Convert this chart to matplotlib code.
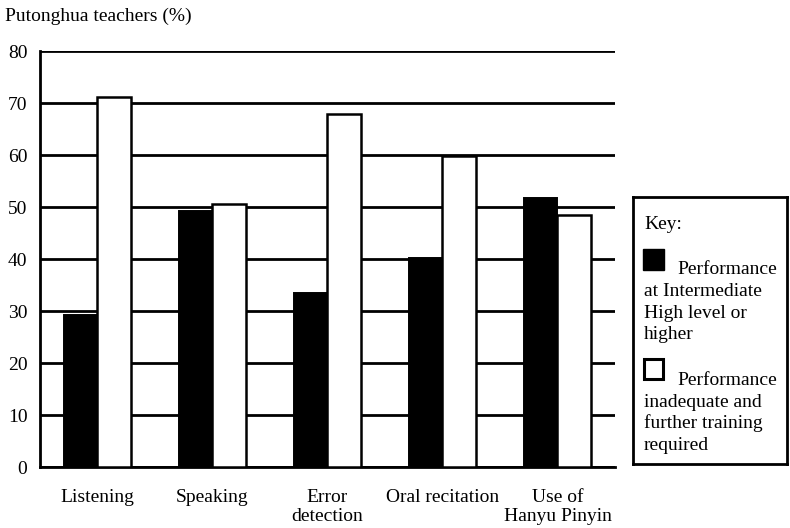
import matplotlib
matplotlib.use('Agg')
from matplotlib import pyplot as plt
from matplotlib.patches import Rectangle
import numpy as np

plt.rcParams['font.family'] = ['Liberation Serif', 'DejaVu Serif']

# data
categories = ['Listening', 'Speaking', 'Error\ndetection', 'Oral recitation', 'Use of\nHanyu Pinyin']
high_level = [29.2, 49.2, 33.5, 40.1, 51.7]
inadequate = [71.1, 50.5, 67.8, 59.8, 48.5]
yticks = [0, 10, 20, 30, 40, 50, 60, 70, 80]

fig = plt.figure(figsize=(7.9, 5.28), dpi=100)
ax = fig.add_axes([0.0506, 0.1155, 0.7278, 0.7879])

x = np.arange(len(categories))
w = 0.29
ax.bar(x - w / 2, high_level, w, color='black', edgecolor='black', linewidth=1.4, zorder=3)
ax.bar(x + w / 2, inadequate, w, color='white', edgecolor='black', linewidth=1.8, zorder=3)

ax.set_xlim(-0.5, 4.5)
ax.set_ylim(0, 80)
ax.set_yticks(yticks)
ax.set_yticklabels([str(t) for t in yticks], fontsize=14)
ax.set_xticks(x)
ax.set_xticklabels(categories, fontsize=14, linespacing=1.12)
ax.tick_params(axis='y', length=0, pad=9)
ax.tick_params(axis='x', length=0, pad=16)
ax.yaxis.grid(True, color='black', linewidth=2.0, zorder=0)
ax.set_axisbelow(True)
for s in ['top', 'right']:
    ax.spines[s].set_visible(False)
ax.spines['left'].set_linewidth(2.0)
ax.spines['bottom'].set_linewidth(2.0)

fig.text(0.006, 1 - 21 / 528, 'Putonghua teachers (%)', fontsize=14, ha='left', va='baseline')

# key box, coords in pixels from its top-left corner
kax = fig.add_axes([633 / 790, 1 - 464 / 528, 154 / 790, 267 / 528])
kax.set_xlim(0, 154)
kax.set_ylim(267, 0)
kax.set_xticks([])
kax.set_yticks([])
for s in kax.spines.values():
    s.set_linewidth(2.0)
fs = 14
kax.text(11, 32, 'Key:', fontsize=fs, va='baseline')
kax.add_patch(Rectangle((10, 52), 21, 21, facecolor='black', edgecolor='black'))
kax.text(44, 77, 'Performance', fontsize=fs, va='baseline')
for i, line in enumerate(['at Intermediate', 'High level or', 'higher']):
    kax.text(11, 99 + 21.5 * i, line, fontsize=fs, va='baseline')
kax.add_patch(Rectangle((11, 162), 19, 20, facecolor='white', edgecolor='black', linewidth=2.2))
kax.text(44, 188, 'Performance', fontsize=fs, va='baseline')
for i, line in enumerate(['inadequate and', 'further training', 'required']):
    kax.text(11, 210 + 21.5 * i, line, fontsize=fs, va='baseline')

fig.savefig('out.png', dpi=100)
